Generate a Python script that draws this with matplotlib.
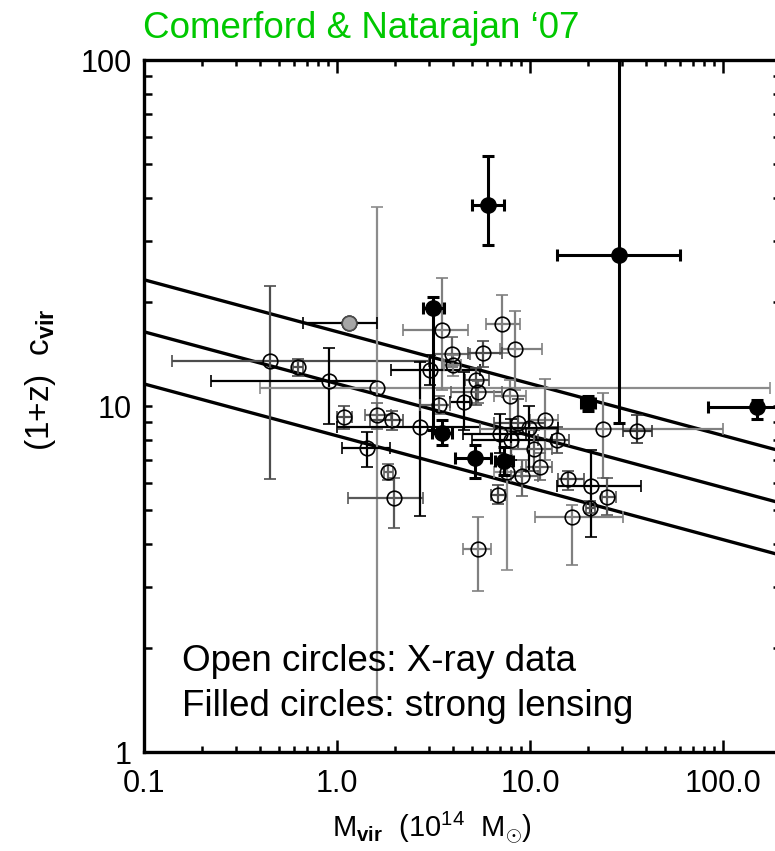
import numpy as np
import matplotlib
matplotlib.use('Agg')
import matplotlib.pyplot as plt
from matplotlib.ticker import FixedLocator, FixedFormatter, LogLocator, NullFormatter

plt.rcParams['font.family'] = ['Liberation Sans', 'DejaVu Sans']
plt.rcParams['mathtext.fontset'] = 'custom'
plt.rcParams['mathtext.rm'] = 'Liberation Sans'
plt.rcParams['mathtext.bf'] = 'Liberation Sans:bold'
plt.rcParams['mathtext.it'] = 'Liberation Sans:italic'

# X-ray clusters (open circles): mass (1e14 Msun), concentration, bounds
xray_M = [0.45, 0.628, 0.91, 1.61, 1.15, 1.09, 1.61, 1.43, 1.84, 1.97,
          2.69, 3.50, 3.03, 3.95, 7.16, 8.35, 5.70, 5.25, 5.4, 4.55,
          3.38, 1.93, 7.87, 12.0, 11.3, 7.6, 6.82, 5.38, 15.7, 16.5,
          23.9, 35.8, 20.7, 25.1, 20.5, 13.8, 8.66, 9.9, 9.1, 3.99,
          8.0, 10.5, 7.0]
xray_M_lo = [0.14, 0.59, 0.222, 0.40, 0.67, 1.0, 1.4, 1.06, 1.75, 1.14,
             1.0, 2.2, 1.9, 3.2, 5.9, 7.0, 4.8, 4.6, 3.9, 3.85,
             2.7, 1.48, 6.5, 10.0, 9.5, 6.5, 6.3, 4.5, 14.0, 10.6,
             5.5, 30.5, 13.8, 23.5, 19.5, 11.0, 6.5, 7.0, 8.0, 3.6,
             5.0, 8.0, 4.5]
xray_M_hi = [3.0, 0.67, 1.61, 175, 1.61, 1.2, 1.9, 1.88, 1.95, 2.78,
             5.5, 4.8, 5.5, 4.9, 8.9, 11.5, 7.2, 6.1, 7.2, 4.9,
             3.85, 2.2, 9.5, 14.0, 13.0, 9.0, 7.4, 6.3, 19.0, 30.5,
             100, 42.9, 37.8, 28.0, 21.8, 16.0, 12.0, 14.0, 11.0, 4.4,
             13.0, 13.0, 9.5]
xray_c = [13.5, 13.0, 11.8, 11.3, 17.4, 9.29, 9.42, 7.56, 6.45, 5.42,
          8.70, 16.6, 12.7, 14.1, 17.3, 14.6, 14.2, 11.9, 11.0, 10.3,
          10.1, 9.11, 10.7, 9.11, 6.66, 6.45, 5.53, 3.86, 6.15, 4.78,
          8.58, 8.47, 5.87, 5.46, 5.08, 7.98, 8.93, 8.64, 6.28, 13.1,
          8.0, 7.5, 8.3]
xray_c_lo = [6.15, 12.2, 8.87, 1.41, 17.0, 8.6, 8.6, 6.66, 6.1, 4.44,
             4.8, 11.1, 11.5, 13.0, 14.2, 11.1, 13.0, 10.1, 10.2, 8.5,
             9.5, 8.5, 8.5, 7.0, 6.1, 3.36, 5.2, 2.92, 5.7, 3.47,
             6.2, 7.8, 4.18, 4.85, 4.9, 7.3, 7.5, 6.5, 5.5, 12.2,
             7.0, 6.5, 7.3]
xray_c_hi = [22.2, 13.7, 14.7, 37.6, 17.8, 10.0, 10.2, 8.4, 6.8, 6.2,
             13.4, 23.4, 14.0, 15.8, 21.0, 18.8, 15.4, 12.9, 11.8, 12.5,
             10.7, 9.7, 11.9, 12.0, 7.3, 7.2, 5.9, 4.77, 6.5, 5.18,
             10.9, 9.4, 7.46, 6.2, 5.3, 8.7, 10.5, 10.0, 7.0, 14.0,
             9.2, 8.5, 9.5]
xray_ecolor = ['0.3', '0.3', 'k', '0.55', 'k', '0.3', '0.4', 'k', '0.4', '0.35',
               'k', '0.5', 'k', '0.4', '0.5', '0.5', '0.3', '0.3', '0.4', 'k',
               '0.4', '0.3', '0.5', '0.5', '0.4', '0.55', '0.3', '0.5', '0.3', '0.5',
               '0.5', '0.2', 'k', '0.35', '0.3', '0.3', '0.3', 'k', '0.4', '0.5',
               'k', '0.4', 'k']

# Strong lensing clusters (filled circles)
lens_M = [6.05, 28.9, 3.14, 3.50, 5.19, 7.33, 20.0, 150]
lens_M_lo = [5.0, 13.8, 2.78, 3.1, 4.08, 6.6, 18.5, 83.6]
lens_M_hi = [7.33, 59.8, 3.58, 3.95, 6.3, 8.2, 21.7, 260]
lens_c = [38.0, 27.3, 19.2, 8.36, 7.07, 6.93, 10.2, 9.94]
lens_c_lo = [29.2, 8.93, 8.53, 7.7, 6.2, 6.3, 9.7, 9.17]
lens_c_hi = [52.7, 300, 20.6, 9.1, 7.7, 7.6, 10.7, 10.4]

# c-M relation (normalisation at 1e14 Msun, with scatter), slope
model_norm = [16.4, 11.6, 8.2]
model_slope = -0.15

xtick_vals = [0.1, 1, 10, 100]
xtick_labels = ['0.1', '1.0', '10.0', '100.0']
ytick_vals = [1, 10, 100]
ytick_labels = ['1', '10', '100']

fig = plt.figure(figsize=(7.75, 8.51), dpi=100)
ax = fig.add_axes([144 / 775, 99 / 851, 637 / 775, 692 / 851])
ax.set_xscale('log')
ax.set_yscale('log')
ax.set_xlim(0.1, 200)
ax.set_ylim(1, 100)

Mgrid = np.array(ax.get_xlim())
for A in model_norm:
    ax.plot(Mgrid, A * Mgrid ** model_slope, color='k', lw=2.4, zorder=1)

for i in range(len(xray_M)):
    m, c = xray_M[i], xray_c[i]
    ax.errorbar(m, c,
                xerr=[[m - xray_M_lo[i]], [xray_M_hi[i] - m]],
                yerr=[[c - xray_c_lo[i]], [xray_c_hi[i] - c]],
                fmt='o', ms=10.5, mfc='none', mec='k', mew=1.2,
                ecolor=xray_ecolor[i], elinewidth=1.6, capsize=4,
                capthick=1.6, zorder=2)
# one X-ray point drawn with a grey face
ax.plot(xray_M[4], xray_c[4], 'o', ms=10.5, mfc='0.65', mec='0.3', mew=1.2, zorder=3)

for i in range(len(lens_M)):
    m, c = lens_M[i], lens_c[i]
    ax.errorbar(m, c,
                xerr=[[m - lens_M_lo[i]], [lens_M_hi[i] - m]],
                yerr=[[c - lens_c_lo[i]], [lens_c_hi[i] - c]],
                fmt='o', ms=11, mfc='k', mec='k',
                ecolor='k', elinewidth=2.2, capsize=4,
                capthick=2.2, zorder=4)

ax.xaxis.set_major_locator(FixedLocator(xtick_vals))
ax.xaxis.set_major_formatter(FixedFormatter(xtick_labels))
ax.xaxis.set_minor_locator(LogLocator(subs=np.arange(2, 10)))
ax.xaxis.set_minor_formatter(NullFormatter())
ax.yaxis.set_major_locator(FixedLocator(ytick_vals))
ax.yaxis.set_major_formatter(FixedFormatter(ytick_labels))
ax.yaxis.set_minor_locator(LogLocator(subs=np.arange(2, 10)))
ax.yaxis.set_minor_formatter(NullFormatter())

ax.tick_params(which='both', direction='in', top=True, right=True, width=1.8,
               labelsize=22)
ax.tick_params(axis='x', which='major', length=9, pad=12)
ax.tick_params(axis='x', which='minor', length=4)
ax.tick_params(axis='y', which='major', length=6, pad=9)
ax.tick_params(axis='y', which='minor', length=5.5)
for s in ax.spines.values():
    s.set_linewidth(2.4)

ax.set_xlabel(r'M$_{\mathbf{vir}}$  (10$^{14}$  M$_{\odot}$)', fontsize=21)
ax.xaxis.set_label_coords(0.452, -0.110)
ax.xaxis.label.set_va('center')
ax.set_ylabel(r'(1+z)  c$_{\mathbf{vir}}$', fontsize=24)
ax.yaxis.set_label_coords(-0.163, 0.538)
ax.yaxis.label.set_va('center')

fig.text(143 / 775, 1 - 38 / 851, 'Comerford & Natarajan \u201807',
         color='#00c800', fontsize=26.5, va='baseline', ha='left')
ax.text(182 / 775, 1 - 671 / 851, 'Open circles: X-ray data', transform=fig.transFigure,
        fontsize=26.5, va='baseline', ha='left')
ax.text(182 / 775, 1 - 716 / 851, 'Filled circles: strong lensing', transform=fig.transFigure,
        fontsize=26.5, va='baseline', ha='left')

fig.savefig('out.png', dpi=100)
